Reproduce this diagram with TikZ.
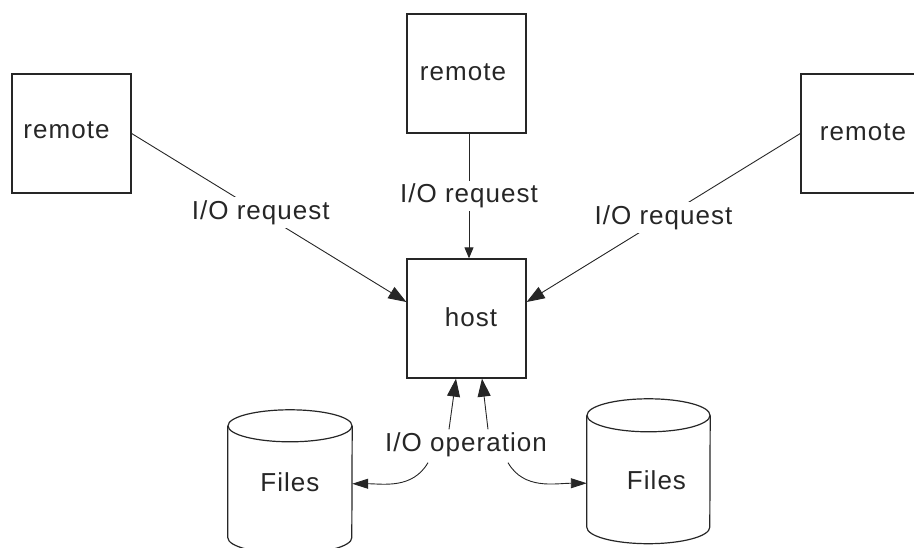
\documentclass[tikz,border=0pt]{standalone}
\usepackage{fontspec}
\setmainfont{Liberation Sans}[LetterSpace=4]
\usetikzlibrary{arrows.meta,calc}
\begin{document}
\begin{tikzpicture}[x=1pt,y=1pt,
  box/.style={draw=black!85, line width=1.3pt, minimum width=119pt, minimum height=119pt, inner sep=0pt},
  lbl/.style={font=\fontsize{26}{30}\selectfont, text=black!85},
  wire/.style={draw=black!85, line width=0.9pt},
  tip/.style={-{Triangle[length=18pt,width=13pt]}},
  tipcurve/.style={-{Triangle[length=16pt,width=10pt]}},
  tipsmall/.style={-{Triangle[length=11pt,width=9pt]}},
  cylbody/.style={minimum width=124pt, minimum height=111.5pt, inner sep=0pt},
  cyl/.style={draw=black!85, line width=1.2pt}]
\useasboundingbox (0,0) rectangle (914,547);
% boxes
\node[box, label={[lbl,xshift=-5pt,yshift=3.5pt]center:remote}] (lr) at (71.5,413.5) {};
\node[box, label={[lbl,xshift=-3.5pt,yshift=1.5pt]center:remote}] (tr) at (466.5,473.5) {};
\node[box, label={[lbl,xshift=2.5pt,yshift=1.5pt]center:remote}] (rr) at (860.5,413.5) {};
\node[box, label={[lbl,xshift=4.5pt,yshift=1.5pt]center:host}] (host) at (466.5,228.5) {};
% cylinders
\node[cylbody, label={[lbl]center:Files}] (f1) at (290,65.25) {};
\draw[cyl] (f1.north west) -- (f1.south west) arc[start angle=180, end angle=360, x radius=62, y radius=16] -- (f1.north east);
\draw[cyl] (f1.north) ellipse[x radius=62, y radius=16];
\node[cylbody, minimum width=123pt, label={[lbl,xshift=8pt,yshift=-9pt]center:Files}] (f2) at (648.5,75.75) {};
\draw[cyl] (f2.north west) -- (f2.south west) arc[start angle=180, end angle=360, x radius=61.5, y radius=16.5] -- (f2.north east);
\draw[cyl] (f2.north) ellipse[x radius=61.5, y radius=16.5];
% requests
\draw[wire, tip] (lr.east) -- node[lbl, fill=white, pos=0.47] (l1) {I/O request} ($(host.west)+(0,16.5)$);
\draw[wire, tipsmall] ($(tr.south)+(2.5,0)$) -- node[lbl, fill=white] (l2) {I/O request} ($(host.north)+(2.5,0)$);
\draw[wire, tip] (rr.west) -- node[lbl, fill=white] (l3) {I/O request} ($(host.east)+(0,16.5)$);
% operations
\node[lbl] (op) at (466,102) {I/O operation};
\draw[wire, tip] ($(op.north)+(-17,0)$) -- ($(host.south)+(-10.5,0)$);
\draw[wire, tip] ($(op.north)+(22,0)$) -- ($(host.south)+(15.5,0)$);
\draw[wire, tipcurve] ($(op.south)+(-38,-2)$) to[out=-120, in=0] ($(f1.east)+(0,-2)$);
\draw[wire, tipcurve] ($(op.south)+(42,-2)$) to[out=-60, in=180] ($(f2.west)+(0,-12)$);
\end{tikzpicture}
\end{document}
